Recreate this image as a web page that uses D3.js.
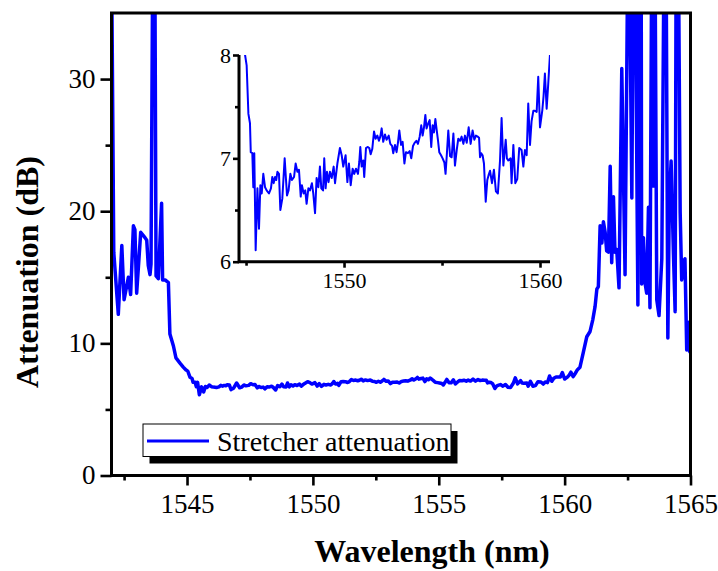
<!DOCTYPE html>
<html>
<head>
<meta charset="utf-8">
<script src="https://cdn.jsdelivr.net/npm/d3@7"></script>
<style>
	body { margin: 0; background: #fff; }
</style>
</head>
<body>
<script>
// Measured spectrum, split in three parts (40 = off scale, clipped)
const leftWl = [1542.0, 1542.09, 1542.27, 1542.41, 1542.5, 1542.6, 1542.67, 1542.76, 1542.87, 1542.93, 1543.0, 1543.16, 1543.33, 1543.4, 1543.46, 1543.53, 1543.57, 1543.64, 1543.72, 1543.77, 1543.86, 1543.99, 1544.03, 1544.13, 1544.26, 1544.32, 1544.46, 1544.56, 1544.72, 1544.85]
const leftDb = [40, 16.9, 12.2, 17.4, 13.3, 14.3, 15.0, 13.7, 18.9, 18.6, 13.8, 18.4, 18.0, 17.8, 15.9, 15.2, 16.0, 40, 40, 15.1, 14.9, 20.6, 14.8, 14.8, 14.6, 10.7, 9.8, 8.9, 8.5, 8.2]

const bandWl = [1544.95, 1545.03, 1545.12, 1545.2, 1545.24, 1545.32, 1545.37, 1545.42, 1545.49, 1545.58, 1545.66, 1545.73, 1545.8, 1545.88, 1545.97, 1546.05, 1546.17, 1546.27, 1546.34, 1546.41, 1546.48, 1546.54, 1546.6, 1546.68, 1546.75, 1546.85, 1546.97, 1547.09, 1547.17, 1547.26, 1547.34, 1547.45, 1547.53, 1547.62, 1547.7, 1547.79, 1547.85, 1547.94, 1548.02, 1548.09, 1548.18, 1548.26, 1548.36, 1548.43, 1548.52, 1548.6, 1548.69, 1548.77, 1548.84, 1548.93, 1548.99, 1549.06, 1549.13, 1549.21, 1549.28, 1549.37, 1549.47, 1549.54, 1549.66, 1549.79, 1549.88, 1549.96, 1550.08, 1550.17, 1550.25, 1550.34, 1550.44, 1550.52, 1550.61, 1550.71, 1550.78, 1550.83, 1550.9, 1550.98, 1551.03, 1551.12,
	1551.2, 1551.29, 1551.36, 1551.44, 1551.53, 1551.61, 1551.7, 1551.78, 1551.85, 1551.92, 1552.0, 1552.09, 1552.17, 1552.28, 1552.36, 1552.45, 1552.51, 1552.6, 1552.68, 1552.75, 1552.82, 1552.91, 1552.99, 1553.08, 1553.16, 1553.26, 1553.35, 1553.43, 1553.52, 1553.6, 1553.69, 1553.77, 1553.86, 1553.94, 1554.01, 1554.08, 1554.15, 1554.21, 1554.3, 1554.37, 1554.45, 1554.52, 1554.59, 1554.66, 1554.73, 1554.79, 1554.86, 1554.95, 1555.03, 1555.12, 1555.18, 1555.25, 1555.32, 1555.41, 1555.49, 1555.58, 1555.66, 1555.75, 1555.83, 1555.92, 1556.0, 1556.09, 1556.17, 1556.26, 1556.36, 1556.46, 1556.56, 1556.65, 1556.73, 1556.82, 1556.89, 1556.94, 1557.0, 1557.07, 1557.14, 1557.23, 1557.31, 1557.38, 1557.45, 1557.55, 1557.65, 1557.75, 1557.85, 1557.96, 1558.04, 1558.13, 1558.25, 1558.31, 1558.38, 1558.5, 1558.55, 1558.64, 1558.74, 1558.84, 1558.94, 1559.06, 1559.15, 1559.23, 1559.32, 1559.4, 1559.49, 1559.57, 1559.66, 1559.74, 1559.83, 1559.91, 1560.0, 1560.12, 1560.18, 1560.25, 1560.34, 1560.42, 1560.51]
const bandDb = [8.0, 7.9, 7.43, 7.34, 7.06, 7.05, 6.72, 7.05, 6.11, 6.71, 6.32, 6.74, 6.66, 6.85, 6.72, 6.69, 6.66, 6.71, 6.82, 6.76, 6.82, 6.79, 6.87, 6.85, 6.5, 6.61, 7.0, 6.64, 6.69, 6.85, 6.79, 6.82, 6.95, 6.87, 6.89, 6.63, 6.74, 6.66, 6.69, 6.56, 6.71, 6.69, 6.76, 6.66, 6.47, 6.81, 6.72, 6.92, 6.71, 6.69, 7.0, 6.71, 6.87, 6.77, 6.87, 6.81, 6.92, 6.76, 6.95, 7.1, 7.03, 6.92, 7.03, 6.77, 6.95, 6.74, 6.9, 6.85, 6.9, 6.85, 6.97, 7.11, 6.92, 6.98, 6.82, 7.1,
	7.11, 7.1, 7.04, 7.09, 7.26, 7.19, 7.22, 7.17, 7.21, 7.29, 7.16, 7.23, 7.18, 7.22, 7.14, 7.12, 7.05, 7.13, 7.06, 7.15, 7.27, 7.13, 7.16, 6.95, 7.06, 7.05, 7.07, 7.0, 7.12, 7.15, 7.17, 7.14, 7.21, 7.32, 7.22, 7.3, 7.42, 7.29, 7.34, 7.37, 7.11, 7.32, 7.25, 7.38, 7.27, 7.18, 7.06, 7.03, 7.0, 6.96, 6.85, 7.05, 7.27, 7.02, 7.01, 7.24, 6.93, 7.08, 7.19, 7.17, 7.21, 7.14, 7.22, 7.15, 7.3, 7.14, 7.27, 7.18, 7.22, 7.21, 7.2, 7.01, 7.05, 7.03, 6.95, 6.58, 6.79, 6.84, 6.88, 6.76, 6.89, 6.68, 6.66, 6.98, 7.39, 6.93, 7.18, 7.0, 6.98, 7.0, 6.76, 7.13, 6.76, 6.8, 7.1, 7.08, 6.92, 7.08, 7.03, 7.53, 7.13, 7.36, 7.46, 7.46, 7.45, 7.79, 7.3, 7.47, 7.6, 7.82, 7.48, 7.72, 8.01]

const rightWl = [1560.61, 1560.74, 1560.88, 1561.01, 1561.12, 1561.21, 1561.28, 1561.34, 1561.41, 1561.48, 1561.54, 1561.61, 1561.67, 1561.74, 1561.81, 1561.87, 1561.94, 1562.0, 1562.07, 1562.16, 1562.27, 1562.4, 1562.51, 1562.57, 1562.67, 1562.73, 1562.8, 1562.91, 1562.97, 1563.04, 1563.06, 1563.13, 1563.2, 1563.26, 1563.33, 1563.39, 1563.46, 1563.53, 1563.59, 1563.66, 1563.75, 1563.86, 1563.95, 1564.03, 1564.1, 1564.16, 1564.23, 1564.32, 1564.39, 1564.43, 1564.52, 1564.59, 1564.65, 1564.72, 1564.78, 1564.85, 1564.92, 1564.96, 1565.0]
const rightDb = [8.2, 9.3, 10.5, 10.9, 11.8, 12.8, 14.1, 14.3, 18.9, 17.6, 19.2, 18.4, 17.0, 16.9, 23.4, 16.1, 21.1, 16.9, 17.1, 14.2, 30.8, 15.2, 40, 40, 21, 40, 40, 12.9, 40, 40, 14.5, 18, 14.5, 13.8, 20.3, 12.7, 40, 21.9, 40, 13.3, 12.1, 16.4, 40, 40, 10.4, 20.9, 23.8, 16.9, 12.4, 40, 40, 19.9, 14.8, 16.2, 16.4, 9.5, 11.6, 9.4, 9.3]

// Ticks and labels
const xTicks = [1545, 1550, 1555, 1560, 1565]
const xMinor = [1542.5, 1547.5, 1552.5, 1557.5, 1562.5]
const yTicks = [0, 10, 20, 30]
const yMinor = [5, 15, 25]
const insetXTicks = [1550, 1560]
const insetXMinor = [1545, 1555]
const insetYTicks = [6, 7, 8]
const insetYMinor = [6.5, 7.5]
const seriesName = 'Stretcher attenuation'

const data = leftWl.concat(bandWl, rightWl).map((wl, i) => ({ wl, db: leftDb.concat(bandDb, rightDb)[i] }))

const width = 718
const height = 571
const plot = { left: 111.5, right: 690.5, top: 13, bottom: 475.5 }
const inset = { left: 239, right: 550, top: 55, bottom: 261.7 }
const blue = '#0000ff'
const serif = "'Liberation Serif', 'Times New Roman', serif"

const svg = d3.select('body').append('svg')
	.attr('width', width).attr('height', height)
	.style('font-family', serif)

// Scales
const x = d3.scaleLinear().domain([1542, 1565]).range([plot.left, plot.right])
const y = d3.scaleLinear().domain([0, 35]).range([plot.bottom, plot.top])
const ix = d3.scaleLinear().domain([1544.64, 1560.51]).range([inset.left, inset.right])
const iy = d3.scaleLinear().domain([6, 8]).range([inset.bottom, inset.top])

const defs = svg.append('defs')
defs.append('clipPath').attr('id', 'clipMain').append('rect')
	.attr('x', plot.left).attr('y', plot.top)
	.attr('width', plot.right - plot.left).attr('height', plot.bottom - plot.top)
defs.append('clipPath').attr('id', 'clipInset').append('rect')
	.attr('x', inset.left).attr('y', inset.top)
	.attr('width', inset.right - inset.left).attr('height', inset.bottom - inset.top)

// main curve
svg.append('path')
	.datum(data)
	.attr('clip-path', 'url(#clipMain)')
	.attr('fill', 'none')
	.attr('stroke', blue)
	.attr('stroke-width', 3.5)
	.attr('stroke-linejoin', 'round')
	.attr('d', d3.line().x(d => x(d.wl)).y(d => y(d.db)))

function styleAxis(g, size) {
	g.select('.domain').remove()
	g.selectAll('line').attr('stroke', '#000').attr('stroke-width', 2.6)
	g.selectAll('text')
		.style('font-family', serif)
		.style('font-size', size + 'px')
		.attr('fill', '#000')
}

// main axes
const gx = svg.append('g').attr('transform', `translate(0,${plot.bottom})`)
	.call(d3.axisBottom(x).tickValues(xTicks).tickFormat(d3.format('d')).tickSize(10).tickSizeOuter(0))
styleAxis(gx, 27)
gx.selectAll('text').attr('y', 37).attr('dy', 0)
svg.append('g').attr('transform', `translate(0,${plot.bottom})`)
	.call(d3.axisBottom(x).tickValues(xMinor).tickFormat('').tickSize(5).tickSizeOuter(0))
	.call(g => styleAxis(g, 27))

const gy = svg.append('g').attr('transform', `translate(${plot.left},0)`)
	.call(d3.axisLeft(y).tickValues(yTicks).tickFormat(d3.format('d')).tickSize(11).tickPadding(5).tickSizeOuter(0))
styleAxis(gy, 27)
gy.selectAll('text').attr('dy', '0.3em')
svg.append('g').attr('transform', `translate(${plot.left},0)`)
	.call(d3.axisLeft(y).tickValues(yMinor).tickFormat('').tickSize(6).tickSizeOuter(0))
	.call(g => styleAxis(g, 27))

svg.append('rect')
	.attr('x', plot.left).attr('y', plot.top)
	.attr('width', plot.right - plot.left).attr('height', plot.bottom - plot.top)
	.attr('fill', 'none').attr('stroke', '#000').attr('stroke-width', 3)

// axis titles
svg.append('text')
	.attr('x', 432).attr('y', 562)
	.attr('text-anchor', 'middle')
	.style('font-family', serif)
	.style('font-size', '32px').style('font-weight', 'bold')
	.text('Wavelength (nm)')
svg.append('text')
	.attr('transform', 'translate(37.5,272) rotate(-90)')
	.attr('text-anchor', 'middle')
	.style('font-family', serif)
	.style('font-size', '32px').style('font-weight', 'bold')
	.text('Attenuation (dB)')

// inset
svg.append('path')
	.datum(data)
	.attr('clip-path', 'url(#clipInset)')
	.attr('fill', 'none')
	.attr('stroke', blue)
	.attr('stroke-width', 2)
	.attr('stroke-linejoin', 'round')
	.attr('d', d3.line().x(d => ix(d.wl)).y(d => iy(d.db)))

const igx = svg.append('g').attr('transform', `translate(0,${inset.bottom})`)
	.call(d3.axisBottom(ix).tickValues(insetXTicks).tickFormat(d3.format('d')).tickSize(6).tickSizeOuter(0))
styleAxis(igx, 22)
igx.selectAll('text').attr('y', 26).attr('dy', 0)
svg.append('g').attr('transform', `translate(0,${inset.bottom})`)
	.call(d3.axisBottom(ix).tickValues(insetXMinor).tickFormat('').tickSize(4).tickSizeOuter(0))
	.call(g => styleAxis(g, 22))

const igy = svg.append('g').attr('transform', `translate(${inset.left},0)`)
	.call(d3.axisLeft(iy).tickValues(insetYTicks).tickFormat(d3.format('d')).tickSize(6).tickPadding(2).tickSizeOuter(0))
styleAxis(igy, 22)
igy.selectAll('text').attr('dy', '0.33em')
svg.append('g').attr('transform', `translate(${inset.left},0)`)
	.call(d3.axisLeft(iy).tickValues(insetYMinor).tickFormat('').tickSize(4).tickSizeOuter(0))
	.call(g => styleAxis(g, 22))

svg.append('path')
	.attr('d', `M${inset.left},${inset.top}V${inset.bottom}H${inset.right}`)
	.attr('fill', 'none').attr('stroke', '#000').attr('stroke-width', 3)

// legend with drop shadow
const legend = svg.append('g').attr('transform', 'translate(143,424)')
legend.append('rect').attr('x', 6.5).attr('y', 7).attr('width', 308).attr('height', 32.5).attr('fill', '#000')
legend.append('rect').attr('x', 0).attr('y', 0).attr('width', 308).attr('height', 32.5)
	.attr('fill', '#fff').attr('stroke', '#000').attr('stroke-width', 1)
legend.append('line').attr('x1', 4).attr('x2', 66).attr('y1', 17).attr('y2', 17)
	.attr('stroke', blue).attr('stroke-width', 3)
legend.append('text').attr('x', 74).attr('y', 26.5)
	.style('font-family', serif).style('font-size', '28px')
	.text(seriesName)
</script>
</body>
</html>
